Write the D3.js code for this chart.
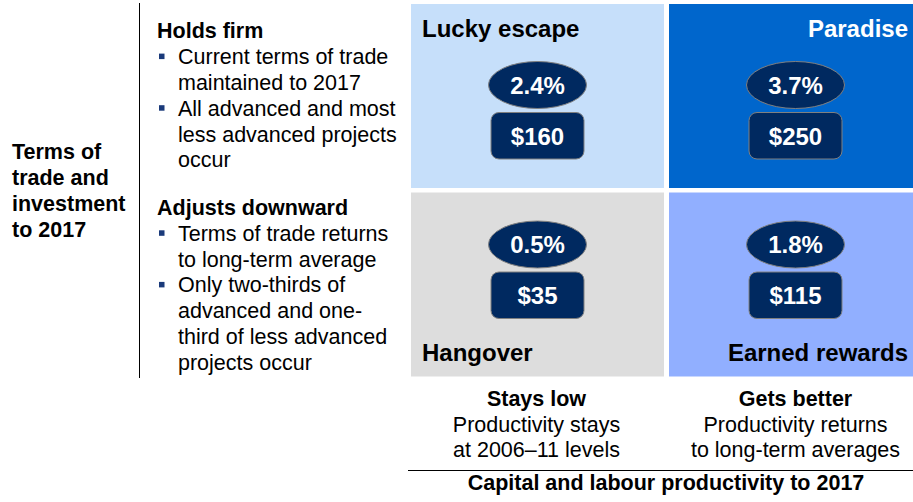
<!DOCTYPE html>
<html>
<head>
<meta charset="utf-8">
<script src="https://cdn.jsdelivr.net/npm/d3@7"></script>
<style>
  html, body { margin: 0; padding: 0; background: #fff; overflow: hidden; }
  svg { display: block; font-family: "Liberation Sans", Arial, sans-serif; }
</style>
</head>
<body>
<div id="chart"></div>
<script>
// Columns (productivity) and rows (terms of trade)
const cols = ["Stays low", "Gets better"];
const colDescs = [
  ["Productivity stays", "at 2006\u201311 levels"],
  ["Productivity returns", "to long-term averages"]
];
const rows = ["Holds firm", "Adjusts downward"];
const rowBullets = [
  [["Current terms of trade", "maintained to 2017"], ["All advanced and most", "less advanced projects", "occur"]],
  [["Terms of trade returns", "to long-term average"], ["Only two-thirds of", "advanced and one-", "third of less advanced", "projects occur"]]
];
const rowTitle = ["Terms of", "trade and", "investment", "to 2017"];
const colTitle = "Capital and labour productivity to 2017";

// Quadrants
const quadNames = ["Lucky escape", "Paradise", "Hangover", "Earned rewards"];
const quadCol = ["Stays low", "Gets better", "Stays low", "Gets better"];
const quadRow = ["Holds firm", "Holds firm", "Adjusts downward", "Adjusts downward"];
const growth = [2.4, 3.7, 0.5, 1.8];     // % per year
const income = [160, 250, 35, 115];      // $
const quadFill = ["#C6DFFA", "#0066CC", "#DDDDDD", "#91AFFF"];
const quadText = ["#000", "#fff", "#000", "#000"];

const width = 913, height = 502;
const navy = "#002960";
const fsBig = "24px", fs = "21.5px";

const svg = d3.select("#chart").append("svg")
  .attr("width", width).attr("height", height);

const x = d3.scaleBand().domain(cols).range([411, 922]).paddingInner(5 / 258);
const y = d3.scaleBand().domain(rows).range([4, 376.5]).paddingInner(4.5 / 188.5);

// quadrant backgrounds
const quads = quadNames.map((n, i) => ({
  name: n, col: quadCol[i], row: quadRow[i], g: growth[i], inc: income[i],
  fill: quadFill[i], text: quadText[i], top: quadRow[i] === rows[0], left: quadCol[i] === cols[0]
}));

const q = svg.selectAll("g.quad").data(quads).join("g").attr("class", "quad");

q.append("rect")
  .attr("x", d => x(d.col)).attr("y", d => y(d.row))
  .attr("width", x.bandwidth()).attr("height", y.bandwidth())
  .attr("fill", d => d.fill);

q.append("text")
  .attr("x", d => d.left ? x(d.col) + 11 : 908)
  .attr("y", d => y(d.row) + (d.top ? 33 : 168.5))
  .attr("text-anchor", d => d.left ? "start" : "end")
  .attr("font-size", fsBig).attr("font-weight", "bold")
  .attr("fill", d => d.text)
  .text(d => d.name);

const cx = d => x(d.col) + x.bandwidth() / 2;
const ey = d => y(d.row) + (d.top ? 81 : 52);

q.append("ellipse")
  .attr("cx", cx).attr("cy", ey)
  .attr("rx", 49).attr("ry", 23.5)
  .attr("fill", navy).attr("stroke", "#808080").attr("stroke-width", 1);

q.append("text")
  .attr("x", cx).attr("y", d => ey(d) + 8.8)
  .attr("text-anchor", "middle")
  .attr("font-size", fsBig).attr("font-weight", "bold").attr("fill", "#fff")
  .text(d => d.g.toFixed(1) + "%");

q.append("rect")
  .attr("x", d => cx(d) - 46.5).attr("y", d => ey(d) + 27.5)
  .attr("width", 93).attr("height", 46.5).attr("rx", 8)
  .attr("fill", navy).attr("stroke", "#808080").attr("stroke-width", 1);

q.append("text")
  .attr("x", cx).attr("y", d => ey(d) + 27.5 + 23.25 + 8.8)
  .attr("text-anchor", "middle")
  .attr("font-size", fsBig).attr("font-weight", "bold").attr("fill", "#fff")
  .text(d => "$" + d.inc);

// vertical divider
svg.append("line")
  .attr("x1", 139.5).attr("x2", 139.5).attr("y1", 3).attr("y2", 378)
  .attr("stroke", "#000").attr("stroke-width", 1);

// row title
svg.append("text")
  .attr("x", 12).attr("y", 159.3)
  .attr("font-size", fs).attr("font-weight", "bold")
  .selectAll("tspan").data(rowTitle).join("tspan")
  .attr("x", 12).attr("dy", (d, i) => i === 0 ? 0 : 25.8)
  .text(d => d);

// row descriptions
const lineH = 25.8;
const rowStart = [38.3, 215];
rows.forEach((r, ri) => {
  const g = svg.append("g");
  let yy = rowStart[ri];
  g.append("text").attr("x", 157).attr("y", yy)
    .attr("font-size", fs).attr("font-weight", "bold").text(r);
  rowBullets[ri].forEach(lines => {
    lines.forEach((ln, li) => {
      yy += lineH;
      if (li === 0) {
        g.append("rect").attr("x", 159).attr("y", yy - 10.5)
          .attr("width", 5.5).attr("height", 5.5).attr("fill", "#1A3A7A");
      }
      g.append("text").attr("x", 178).attr("y", yy)
        .attr("font-size", fs).text(ln);
    });
  });
});

// column descriptions
cols.forEach((c, ci) => {
  const mx = x(c) + x.bandwidth() / 2 - (ci === 0 ? 1 : 0);
  svg.append("text").attr("x", mx).attr("y", 406)
    .attr("text-anchor", "middle").attr("font-size", fs).attr("font-weight", "bold")
    .text(c);
  colDescs[ci].forEach((ln, li) => {
    svg.append("text").attr("x", mx).attr("y", 431.5 + li * 25.2)
      .attr("text-anchor", "middle").attr("font-size", fs).text(ln);
  });
});

svg.append("line")
  .attr("x1", 408).attr("x2", 913).attr("y1", 470.5).attr("y2", 470.5)
  .attr("stroke", "#000").attr("stroke-width", 1);

svg.append("text")
  .attr("x", 666).attr("y", 490)
  .attr("text-anchor", "middle").attr("font-size", fs).attr("font-weight", "bold")
  .text(colTitle);
</script>
</body>
</html>
